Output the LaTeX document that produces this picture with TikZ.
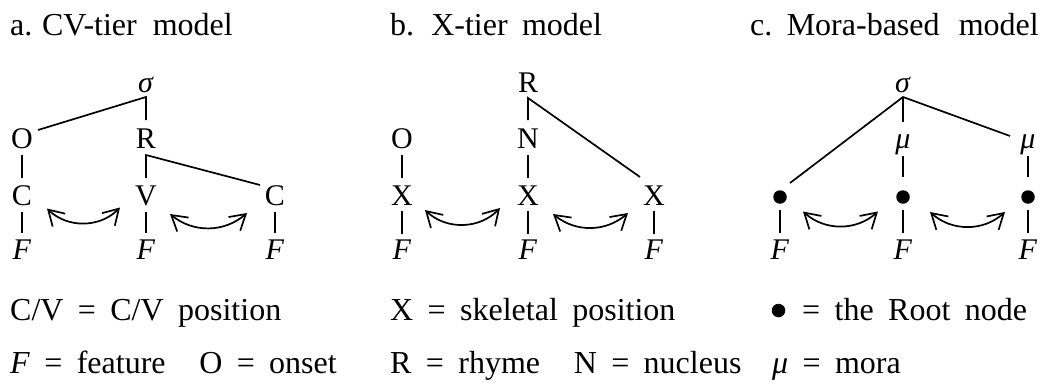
\documentclass[tikz,border=0pt]{standalone}
\usepackage{fontspec}
\setmainfont{Liberation Serif}[WordSpace=1.8]
\usetikzlibrary{calc,arrows.meta}
\begin{document}
\begin{tikzpicture}[x=1pt,y=-1pt,
  lab/.style={anchor=base,inner sep=0pt,font=\fontsize{30}{30}\selectfont},
  txt/.style={anchor=base west,inner sep=0pt,font=\fontsize{32}{32}\selectfont},
  ln/.style={line width=1.7pt},
  dot/.style={circle,fill=black,inner sep=0pt,minimum size=13.5pt},
  xarrow/.style={line width=1.7pt,{Straight Barb[length=15pt,width=18pt]}-{Straight Barb[length=15pt,width=18pt]}}
]
\useasboundingbox (0,0) rectangle (1063,383);

% titles
\node[txt] (ta) at (10,35) {a.\hspace{0.3em}CV-tier\hspace{0.5em}model};
\node[txt] (tb) at (390,35) {b. X-tier model};
\node[txt] (tc) at (750,35) {c.\hspace{0.45em}Mora-based\hspace{0.6em}model};

% ---------- panel a ----------
\node[lab] (sa) at (146,92) {\textit{σ}};
\node[lab] (Oa) at (22,148.5) {O};
\node[lab] (Ra) at (146,148.5) {R};
\node[lab] (Ca1) at (22,205.5) {C};
\node[lab] (Va) at (146,205.5) {V};
\node[lab] (Ca2) at (275,205.5) {C};
\node[lab] (Fa1) at (22,259.5) {\textit{F}};
\node[lab] (Fa2) at (146,259.5) {\textit{F}};
\node[lab] (Fa3) at (275,259.5) {\textit{F}};

\draw[ln] ($(Oa.base)+(16,-18.5)$) -- ($(sa.base)+(0,5)$) -- ($(Ra.base)+(0,-28.5)$);
\draw[ln] ($(Va.base)+(0,-27.5)$) -- ($(Ra.base)+(0,6.5)$) -- ($(Ca2.base)+(-15,-20.5)$);
\draw[ln] ($(Oa.base)+(0,6.5)$) -- ($(Ca1.base)+(0,-27.5)$);
\draw[ln] ($(Ca1.base)+(0,6.5)$) -- ($(Fa1.base)+(0,-26.5)$);
\draw[ln] ($(Va.base)+(0,6.5)$) -- ($(Fa2.base)+(0,-26.5)$);
\draw[ln] ($(Ca2.base)+(0,6.5)$) -- ($(Fa3.base)+(0,-26.5)$);

\coordinate (a1l) at (47,208.5);
\coordinate (a1r) at (120,207.5);
\coordinate (a2l) at (170,214);
\coordinate (a2r) at (247,213);
\draw[xarrow] (a1l) to[bend right=45] (a1r);
\draw[xarrow] (a2l) to[bend right=40] (a2r);

% ---------- panel b ----------
\node[lab] (Rb) at (528,92) {R};
\node[lab] (Ob) at (402,148.5) {O};
\node[lab] (Nb) at (528,148.5) {N};
\node[lab] (Xb1) at (402,205.5) {X};
\node[lab] (Xb2) at (528,205.5) {X};
\node[lab] (Xb3) at (654,205.5) {X};
\node[lab] (Fb1) at (402,259.5) {\textit{F}};
\node[lab] (Fb2) at (528,259.5) {\textit{F}};
\node[lab] (Fb3) at (654,259.5) {\textit{F}};

\draw[ln] ($(Nb.base)+(0,-28.5)$) -- ($(Rb.base)+(0,6)$) -- ($(Xb3.base)+(-14,-28.5)$);
\draw[ln] ($(Ob.base)+(0,6.5)$) -- ($(Xb1.base)+(0,-27.5)$);
\draw[ln] ($(Nb.base)+(0,6.5)$) -- ($(Xb2.base)+(0,-27.5)$);
\draw[ln] ($(Xb1.base)+(0,5.5)$) -- ($(Fb1.base)+(0,-25.5)$);
\draw[ln] ($(Xb2.base)+(0,5.5)$) -- ($(Fb2.base)+(0,-25.5)$);
\draw[ln] ($(Xb3.base)+(0,5.5)$) -- ($(Fb3.base)+(0,-25.5)$);

\coordinate (b1l) at (425,210);
\coordinate (b1r) at (500,208);
\coordinate (b2l) at (553,214);
\coordinate (b2r) at (628,213);
\draw[xarrow] (b1l) to[bend right=45] (b1r);
\draw[xarrow] (b2l) to[bend right=40] (b2r);

% ---------- panel c ----------
\node[lab] (sc) at (903,92) {\textit{σ}};
\node[lab] (mc1) at (903,148.5) {\textit{μ}};
\node[lab] (mc2) at (1028,148.5) {\textit{μ}};
\node[dot] (d1) at (780,197) {};
\node[dot] (d2) at (903,197) {};
\node[dot] (d3) at (1028,197) {};
\node[lab] (Fc1) at (780,259.5) {\textit{F}};
\node[lab] (Fc2) at (903,259.5) {\textit{F}};
\node[lab] (Fc3) at (1028,259.5) {\textit{F}};

\draw[ln] ($(d1.center)+(10,-14)$) -- ($(sc.base)+(0,5)$) -- ($(mc2.base)+(-18,-12.5)$);
\draw[ln] ($(sc.base)+(0,5)$) -- ($(mc1.base)+(0,-27)$);
\draw[ln] ($(mc1.base)+(0,7.5)$) -- ($(d2.center)+(0,-20)$);
\draw[ln] ($(mc2.base)+(0,7.5)$) -- ($(d3.center)+(0,-20)$);
\draw[ln] ($(d1.center)+(0,13)$) -- ($(Fc1.base)+(0,-26.5)$);
\draw[ln] ($(d2.center)+(0,13)$) -- ($(Fc2.base)+(0,-26.5)$);
\draw[ln] ($(d3.center)+(0,13)$) -- ($(Fc3.base)+(0,-26.5)$);

\coordinate (c1l) at (803,211.5);
\coordinate (c1r) at (878,211.5);
\coordinate (c2l) at (930,212);
\coordinate (c2r) at (1005,212);
\draw[xarrow] (c1l) to[bend right=42] (c1r);
\draw[xarrow] (c2l) to[bend right=42] (c2r);

% keys
\node[txt] (ka1) at (10,320) {C/V = C/V position};
\node[txt] (ka2) at (10,373) {\textit{F} = feature\hspace{0.6em} O = onset};
\node[txt] (kb1) at (390,320) {X = skeletal position};
\node[txt] (kb2) at (390,373) {R = rhyme\hspace{0.6em} N = nucleus};
\node[dot] (kdot) at (778.5,310.5) {};
\node[txt] (kc1) at (802,320) {= the Root node};
\node[txt] (kc2) at (772,373) {\textit{μ} = mora};
\end{tikzpicture}
\end{document}
